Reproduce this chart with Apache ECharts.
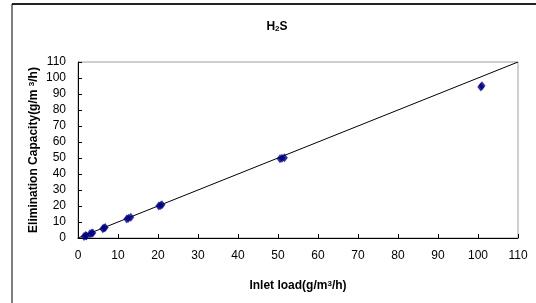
<!DOCTYPE html>
<html>
<head>
<meta charset="utf-8">
<script src="https://cdn.jsdelivr.net/npm/echarts@6/dist/echarts.min.js"></script>
<style>
  html, body { margin: 0; padding: 0; background: #fff; }
  #chart { width: 536px; height: 303px; }
</style>
</head>
<body>
<div id="chart"></div>
<script>
// measured points, several overlapping per load level
const inletLoad = [1.5, 1.9, 2.1, 3.0, 3.4, 3.7, 6.2, 6.5, 6.8, 12.2, 12.6, 13.2, 20.2, 20.6, 21.0, 50.5, 51.0, 51.6, 100.7, 101.0]
const eliminationCap = [1.0, 1.6, 1.3, 2.6, 3.0, 3.2, 5.8, 6.3, 6.6, 11.8, 12.3, 13.0, 20.0, 20.3, 20.8, 49.5, 49.8, 50.1, 94.4, 95.2]
const refLine = [[0, 0], [110, 110]]

const chart = echarts.init(document.getElementById('chart'))

const font = 'Liberation Sans, Arial, sans-serif'

const richText = (supAlign) => ({
  a: { fontSize: 12, fontWeight: 'bold', color: '#000', fontFamily: font },
  s: supAlign === 'bottom'
    ? { fontSize: 8, fontWeight: 'bold', color: '#000', fontFamily: font, verticalAlign: 'bottom', padding: [3, 0, 0, 0] }
    : { fontSize: 8, fontWeight: 'bold', color: '#000', fontFamily: font, verticalAlign: 'top', padding: [0, 0, 4, 0] }
})

const option = {
  animation: false,
  textStyle: { fontFamily: font },
  title: {
    text: '{a|H}{s|2}{a|S}',
    left: 272,
    top: 16,
    textAlign: 'center',
    textStyle: { rich: richText('bottom') }
  },
  grid: {
    left: 78,
    right: 18,
    top: 62,
    bottom: 65,
    show: true,
    borderColor: '#a0a0a0',
    borderWidth: 1
  },
  xAxis: {
    type: 'value',
    min: 0,
    max: 110,
    interval: 10,
    name: '{a|Inlet load(g/m}{s|3}{a|/h)}',
    nameLocation: 'middle',
    nameGap: 42,
    nameTextStyle: { rich: richText('top') },
    axisLine: { lineStyle: { color: '#000', width: 1 } },
    axisTick: { inside: true, length: 4, lineStyle: { color: '#000' } },
    axisLabel: { color: '#000', fontSize: 12, margin: 12, fontFamily: font },
    splitLine: { show: false }
  },
  yAxis: {
    type: 'value',
    min: 0,
    max: 110,
    interval: 10,
    name: '{a|Elimination Capacity(g/m }{s|3}{a|/h)}',
    nameLocation: 'middle',
    nameRotate: 90,
    nameGap: 38,
    nameMoveOverlap: false,
    nameTextStyle: { rich: richText('top') },
    axisLine: { lineStyle: { color: '#000', width: 1 } },
    axisTick: { inside: true, length: 4, lineStyle: { color: '#000' } },
    axisLabel: { color: '#000', fontSize: 12, margin: 12, fontFamily: font },
    splitLine: { show: false }
  },
  graphic: [
    { type: 'line', shape: { x1: 12, y1: 4, x2: 536, y2: 4 }, style: { stroke: '#222', lineWidth: 2 } },
    { type: 'line', shape: { x1: 12, y1: 4, x2: 12, y2: 303 }, style: { stroke: '#000', lineWidth: 1 } }
  ],
  series: [
    {
      type: 'line',
      data: refLine,
      showSymbol: false,
      lineStyle: { color: '#000', width: 1 },
      z: 2
    },
    {
      type: 'scatter',
      data: inletLoad.map((x, i) => [x, eliminationCap[i]]),
      symbol: 'diamond',
      symbolSize: [7, 9],
      itemStyle: { color: '#000080' },
      z: 3
    }
  ]
}

chart.setOption(option)
</script>
</body>
</html>
